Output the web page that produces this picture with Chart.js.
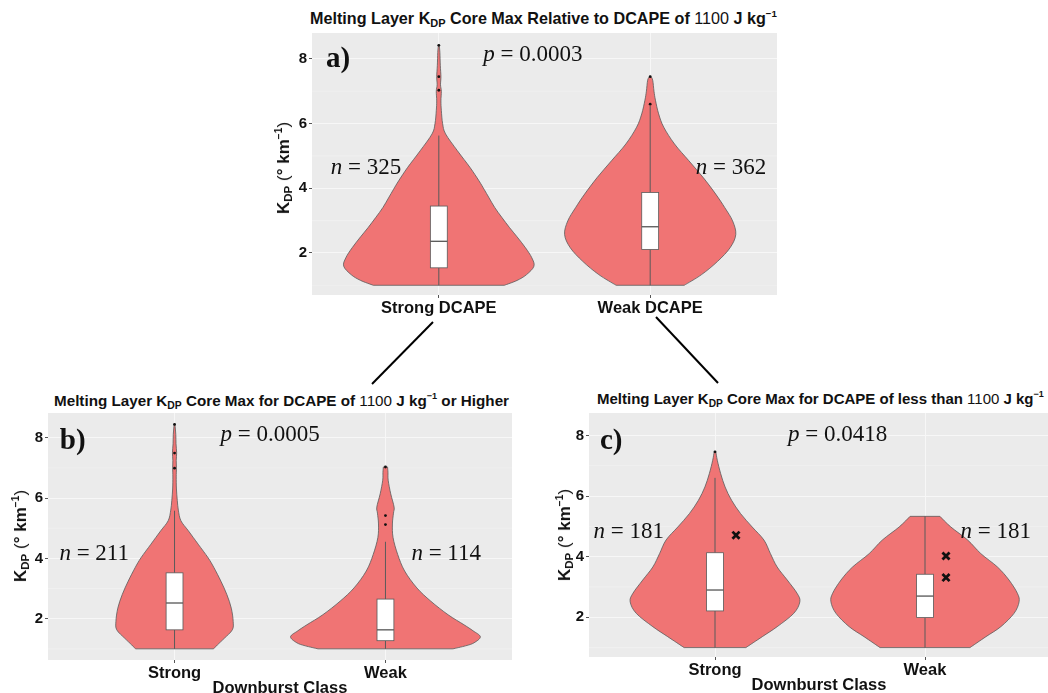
<!DOCTYPE html>
<html>
<head>
<meta charset="utf-8">
<script src="https://cdn.jsdelivr.net/npm/chart.js@4.4.1/dist/chart.umd.min.js"></script>
<style>
  body { margin: 0; background: #fff; }
  #page { position: relative; width: 1048px; height: 693px; overflow: hidden; font-family: "Liberation Sans", Arial, sans-serif; color: #111; }
  .panel { position: absolute; }
  .panel canvas { display: block; }
  .title { position: absolute; white-space: nowrap; font-weight: bold; font-size: 14px; transform: translateY(-50%); }
  .num { font-weight: normal; }
  .ytitle { position: absolute; white-space: nowrap; font-weight: bold; font-size: 17px; transform: translate(-50%, -50%) rotate(-90deg); }
  .xtitle { position: absolute; white-space: nowrap; font-weight: bold; font-size: 16.5px; transform: translate(-50%, -50%); }
  .thin { font-weight: normal; }
  sub { font-size: 68%; vertical-align: -0.3em; line-height: 0; }
  sup { font-size: 60%; vertical-align: 0.7em; line-height: 0; }
  svg { position: absolute; left: 0; top: 0; }
</style>
</head>
<body>
<div id="page">
  <div class="title" data-width="468" style="left:310px;top:18px">Melting Layer K<sub>DP</sub> Core Max Relative to DCAPE of <span class="num">1100</span> J kg<sup>−1</sup></div>
  <div class="title" data-width="456" style="left:54px;top:400px">Melting Layer K<sub>DP</sub> Core Max for DCAPE of <span class="num">1100</span> J kg<sup>−1</sup> or Higher</div>
  <div class="title" data-width="447" style="left:597px;top:398px">Melting Layer K<sub>DP</sub> Core Max for DCAPE of less than <span class="num">1100</span> J kg<sup>−1</sup></div>

  <div class="panel" style="left:272px;top:33px;width:505px;height:292px"><canvas id="chartA" width="505" height="292" style="width:505px;height:292px"></canvas></div>
  <div class="panel" style="left:8px;top:413px;width:504px;height:277px"><canvas id="chartB" width="504" height="277" style="width:504px;height:277px"></canvas></div>
  <div class="panel" style="left:549px;top:413px;width:502px;height:274px"><canvas id="chartC" width="502" height="274" style="width:502px;height:274px"></canvas></div>

  <div class="ytitle" style="left:284px;top:168px">K<sub>DP</sub> <span class="thin">(</span>° km<sup>−1</sup><span class="thin">)</span></div>
  <div class="ytitle" style="left:21px;top:536px">K<sub>DP</sub> <span class="thin">(</span>° km<sup>−1</sup><span class="thin">)</span></div>
  <div class="ytitle" style="left:565px;top:535px">K<sub>DP</sub> <span class="thin">(</span>° km<sup>−1</sup><span class="thin">)</span></div>

  <div class="xtitle" style="left:280px;top:687px">Downburst Class</div>
  <div class="xtitle" style="left:819px;top:684px">Downburst Class</div>

  <svg width="1048" height="693">
    <line x1="433" y1="322" x2="372" y2="384" stroke="#000" stroke-width="2"/>
    <line x1="656" y1="317" x2="718" y2="383" stroke="#000" stroke-width="2"/>
  </svg>
</div>

<script>
const yTicks = [2, 4, 6, 8];
const yMinor = [1, 3, 5, 7];
const classesA = ['Strong DCAPE', 'Weak DCAPE'];
const classesBC = ['Strong', 'Weak'];

// violin outlines: KDP level and half width of the violin at that level (x units)
const aStrongKdp = [1.0, 1.15, 1.33, 1.59, 1.85, 2.16, 2.5, 2.78, 3.1, 3.4, 3.7, 3.97, 4.23, 4.64, 5.16, 5.68, 6.0, 6.4, 6.7, 7.0, 7.2, 7.45, 7.8, 8.2, 8.42];
const aStrongHalf = [0.31, 0.37, 0.415, 0.45, 0.44, 0.41, 0.37, 0.335, 0.298, 0.265, 0.238, 0.214, 0.19, 0.148, 0.088, 0.032, 0.018, 0.012, 0.01, 0.012, 0.008, 0.01, 0.007, 0.005, 0.002];
const aWeakKdp = [1.0, 1.33, 1.74, 2.16, 2.57, 2.99, 3.4, 3.82, 4.33, 4.85, 5.37, 5.89, 6.3, 6.72, 7.0, 7.34, 7.46];
const aWeakHalf = [0.161, 0.243, 0.319, 0.378, 0.405, 0.39, 0.353, 0.31, 0.251, 0.183, 0.115, 0.064, 0.04, 0.025, 0.018, 0.012, 0.003];

const bStrongKdp = [1.0, 1.13, 1.35, 1.63, 1.91, 2.35, 2.8, 3.24, 3.69, 4.02, 4.47, 4.91, 5.25, 5.6, 5.92, 6.3, 6.7, 7.0, 7.25, 7.5, 7.8, 8.1, 8.44];
const bStrongHalf = [0.185, 0.203, 0.236, 0.274, 0.278, 0.269, 0.248, 0.22, 0.187, 0.159, 0.112, 0.066, 0.03, 0.018, 0.013, 0.009, 0.008, 0.009, 0.008, 0.01, 0.007, 0.006, 0.002];
const bWeakKdp = [1.0, 1.1, 1.2, 1.4, 1.6, 1.8, 2.13, 2.58, 3.02, 3.58, 4.13, 4.69, 5.14, 5.5, 5.7, 6.14, 6.59, 6.85, 7.03];
const bWeakHalf = [0.32, 0.38, 0.42, 0.45, 0.415, 0.372, 0.297, 0.215, 0.149, 0.091, 0.058, 0.036, 0.033, 0.038, 0.041, 0.025, 0.013, 0.012, 0.01];

const cStrongKdp = [1.0, 1.36, 1.69, 2.13, 2.51, 2.79, 3.23, 3.66, 4.1, 4.55, 4.98, 5.42, 5.86, 6.3, 6.74, 7.18, 7.46];
const cStrongHalf = [0.147, 0.225, 0.296, 0.375, 0.404, 0.391, 0.344, 0.296, 0.264, 0.233, 0.177, 0.122, 0.079, 0.048, 0.027, 0.011, 0.004];
const cWeakKdp = [1.0, 1.36, 1.69, 2.13, 2.51, 2.79, 3.23, 3.66, 4.1, 4.55, 4.98, 5.33];
const cWeakHalf = [0.214, 0.29, 0.361, 0.424, 0.448, 0.44, 0.4, 0.345, 0.266, 0.203, 0.123, 0.071];

// box stats: [lower whisker, Q1, median, Q3, upper whisker]
const aBoxes = [[1.0, 1.54, 2.36, 3.45, 5.63], [1.0, 2.11, 2.81, 3.87, 6.55]];
const bBoxes = [[1.0, 1.63, 2.52, 3.52, 5.58], [1.0, 1.27, 1.63, 2.65, 4.55]];
const cBoxes = [[1.0, 2.21, 2.9, 4.13, 6.6], [1.0, 1.99, 2.7, 3.42, 5.33]];

// outliers: [class, KDP]
const aOutliers = [[1, 7.03], [1, 7.45], [1, 8.42], [2, 6.6], [2, 7.45]];
const bOutliers = [[1, 6.99], [1, 7.49], [1, 8.44], [2, 5.12], [2, 5.42], [2, 7.03]];
const cOutliers = [[1, 7.46]];
const cMarks = [[1.1, 4.71], [2.1, 4.02], [2.1, 3.31]];

const aCounts = [325, 362];
const bCounts = [211, 114];
const cCounts = [181, 181];
const aP = '0.0003';
const bP = '0.0005';
const cP = '0.0418';

const FILL = '#F07474';
const LINE = '#5a5a5a';

function spline(ctx, p) {
    for (let i = 0; i < p.length - 1; i++) {
        const p0 = p[i - 1] || p[i], p1 = p[i], p2 = p[i + 1], p3 = p[i + 2] || p2;
        ctx.bezierCurveTo(
            p1[0] + (p2[0] - p0[0]) / 6, p1[1] + (p2[1] - p0[1]) / 6,
            p2[0] - (p3[0] - p1[0]) / 6, p2[1] - (p3[1] - p1[1]) / 6,
            p2[0], p2[1]);
    }
}

const panelPlugin = {
    id: 'panel',
    beforeDraw(chart) {
        const { ctx, chartArea: a, scales: { y } } = chart;
        ctx.save();
        ctx.fillStyle = '#EBEBEB';
        ctx.fillRect(a.left, a.top, a.width, a.height);
        ctx.strokeStyle = '#F3F3F3';
        ctx.lineWidth = 0.6;
        yMinor.forEach(v => {
            const py = y.getPixelForValue(v);
            ctx.beginPath(); ctx.moveTo(a.left, py); ctx.lineTo(a.right, py); ctx.stroke();
        });
        ctx.restore();
    },
    beforeDatasetsDraw(chart, args, opts) {
        const { ctx, chartArea: a, scales: { x, y } } = chart;
        ctx.save();
        ctx.beginPath(); ctx.rect(a.left, a.top, a.width, a.height); ctx.clip();
        opts.violins.forEach((vl, i) => {
            const cx = i + 1;
            const right = vl.kdp.map((v, j) => [x.getPixelForValue(cx + vl.half[j]), y.getPixelForValue(v)]);
            const left = vl.kdp.map((v, j) => [x.getPixelForValue(cx - vl.half[j]), y.getPixelForValue(v)]).reverse();
            ctx.beginPath();
            ctx.moveTo(right[0][0], right[0][1]);
            spline(ctx, right);
            ctx.lineTo(left[0][0], left[0][1]);
            spline(ctx, left);
            ctx.closePath();
            ctx.fillStyle = FILL;
            ctx.fill();
            ctx.strokeStyle = LINE;
            ctx.lineWidth = 0.8;
            ctx.stroke();

            const [lo, q1, med, q3, hi] = opts.boxes[i];
            const px = x.getPixelForValue(cx);
            ctx.beginPath();
            ctx.moveTo(px, y.getPixelForValue(lo)); ctx.lineTo(px, y.getPixelForValue(q1));
            ctx.moveTo(px, y.getPixelForValue(q3)); ctx.lineTo(px, y.getPixelForValue(hi));
            ctx.lineWidth = 1;
            ctx.stroke();

            const bl = x.getPixelForValue(cx - 0.04), br = x.getPixelForValue(cx + 0.04);
            const bt = y.getPixelForValue(q3), bb = y.getPixelForValue(q1);
            ctx.fillStyle = '#fff';
            ctx.fillRect(bl, bt, br - bl, bb - bt);
            ctx.lineWidth = 0.8;
            ctx.strokeRect(bl, bt, br - bl, bb - bt);
            const pm = y.getPixelForValue(med);
            ctx.beginPath(); ctx.moveTo(bl, pm); ctx.lineTo(br, pm);
            ctx.lineWidth = 1.3; ctx.strokeStyle = '#555';
            ctx.stroke();
        });
        ctx.restore();
    },
    afterDatasetsDraw(chart, args, opts) {
        const { ctx, scales: { x, y } } = chart;
        const L = opts.layout;
        ctx.save();
        ctx.fillStyle = '#111';
        ctx.textBaseline = 'middle';
        ctx.textAlign = 'center';
        ctx.font = 'bold 29px "Liberation Serif", "Times New Roman", serif';
        ctx.fillText(opts.tag, x.getPixelForValue(L.tag[0]), y.getPixelForValue(L.tag[1]));

        const drawStat = (letter, rest, pos) => {
            ctx.font = 'italic 23px "Liberation Serif", "Times New Roman", serif';
            const w1 = ctx.measureText(letter).width;
            ctx.font = '23px "Liberation Serif", "Times New Roman", serif';
            const w2 = ctx.measureText(rest).width;
            const x0 = x.getPixelForValue(pos[0]) - (w1 + w2) / 2;
            const py = y.getPixelForValue(pos[1]);
            ctx.textAlign = 'left';
            ctx.font = 'italic 23px "Liberation Serif", "Times New Roman", serif';
            ctx.fillText(letter, x0, py);
            ctx.font = '23px "Liberation Serif", "Times New Roman", serif';
            ctx.fillText(rest, x0 + w1, py);
        };
        drawStat('p', ' = ' + opts.p, L.p);
        opts.counts.forEach((n, i) => drawStat('n', ' = ' + n, L.n[i]));
        ctx.restore();
    }
};

function makePanel(id, cfg) {
    const tickFont = { family: '"Liberation Sans", Arial, sans-serif', weight: 'bold' };
    new Chart(document.getElementById(id), {
        type: 'scatter',
        data: {
            datasets: [{
                data: cfg.outliers.map(([c, v]) => ({ x: c, y: v })),
                pointRadius: 1.4,
                pointBackgroundColor: '#111',
                pointBorderWidth: 0
            }, {
                data: (cfg.marks || []).map(([c, v]) => ({ x: c, y: v })),
                pointStyle: 'crossRot',
                pointRadius: 5,
                pointBorderWidth: 2.8,
                pointBorderColor: '#111'
            }]
        },
        options: {
            responsive: false,
            animation: false,
            layout: { padding: 0, autoPadding: false },
            scales: {
                x: {
                    type: 'linear', min: 0.4, max: 2.6,
                    afterBuildTicks: s => { s.ticks = cfg.classes.map((c, i) => ({ value: i + 1 })); },
                    afterFit: s => { s.height = 30; s.paddingLeft = 0; s.paddingRight = 0; },
                    ticks: { callback: v => cfg.classes[v - 1], color: '#111', padding: 1, maxRotation: 0, font: { ...tickFont, size: 16.5 } },
                    grid: { color: '#F7F7F7', lineWidth: 1, tickColor: '#555', tickLength: 3 },
                    border: { display: false }
                },
                y: {
                    min: cfg.yMin, max: cfg.yMax,
                    afterBuildTicks: s => { s.ticks = yTicks.map(v => ({ value: v })); },
                    afterFit: s => { s.width = 40; s.paddingTop = 0; s.paddingBottom = 0; },
                    ticks: { color: '#111', padding: 2, font: { ...tickFont, size: 15 } },
                    grid: { color: '#F7F7F7', lineWidth: 1, tickColor: '#555', tickLength: 3 },
                    border: { display: false }
                }
            },
            plugins: {
                legend: { display: false },
                tooltip: { enabled: false },
                panel: {
                    violins: cfg.violins, boxes: cfg.boxes, counts: cfg.counts,
                    p: cfg.p, tag: cfg.tag, layout: cfg.layout
                }
            }
        },
        plugins: [panelPlugin]
    });
}

makePanel('chartA', {
    classes: classesA, yMin: 0.70, yMax: 8.80,
    violins: [{ kdp: aStrongKdp, half: aStrongHalf }, { kdp: aWeakKdp, half: aWeakHalf }],
    boxes: aBoxes, outliers: aOutliers, counts: aCounts, p: aP, tag: 'a)',
    layout: { tag: [0.523, 7.97], p: [1.445, 8.12], n: [[0.655, 4.64], [2.382, 4.64]] }
});
makePanel('chartB', {
    classes: classesBC, yMin: 0.63, yMax: 8.82,
    violins: [{ kdp: bStrongKdp, half: bStrongHalf }, { kdp: bWeakKdp, half: bWeakHalf }],
    boxes: bBoxes, outliers: bOutliers, counts: bCounts, p: bP, tag: 'b)',
    layout: { tag: [0.517, 7.87], p: [1.453, 8.09], n: [[0.619, 4.14], [2.288, 4.14]] }
});
makePanel('chartC', {
    classes: classesBC, yMin: 0.69, yMax: 8.74,
    violins: [{ kdp: cStrongKdp, half: cStrongHalf }, { kdp: cWeakKdp, half: cWeakHalf }],
    boxes: cBoxes, outliers: cOutliers, marks: cMarks, counts: cCounts, p: cP, tag: 'c)',
    layout: { tag: [0.506, 7.79], p: [1.584, 8.0], n: [[0.589, 4.82], [2.337, 4.82]] }
});

// stretch the panel titles to the width they take in the figure
document.querySelectorAll('.title').forEach(el => {
    const target = +el.dataset.width;
    el.style.fontSize = (14 * target / el.offsetWidth) + 'px';
});
</script>
</body>
</html>
